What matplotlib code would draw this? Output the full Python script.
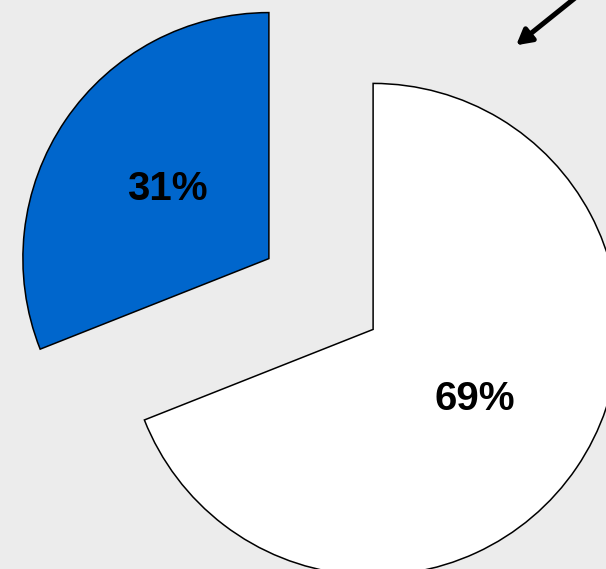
import matplotlib.pyplot as plt

# share of the two groups
labels = ['A', 'B']
values = [31, 69]
colors = ['#0066cc', '#ffffff']

fig = plt.figure(figsize=(6.06, 5.69), dpi=100, facecolor='#ececec')
ax = fig.add_axes([0, 0, 1, 1])
ax.set_facecolor('#ececec')

# explode is in data units here (pie is drawn in pixel-like coords)
wedges, texts, autotexts = ax.pie(
    values, colors=colors, startangle=90, counterclock=True,
    explode=[63, 63], radius=246, center=(321, 275),
    autopct='%d%%', pctdistance=0.5,
    wedgeprops=dict(edgecolor='black', linewidth=1.1),
    textprops=dict(fontsize=29, fontweight='bold', color='black',
                   family=['Liberation Sans', 'DejaVu Sans']),
    frame=True)

ax.set_xlim(0, 606)
ax.set_ylim(0, 569)
ax.set_aspect('equal')
ax.axis('off')

# arrow coming in from the top right
ax.annotate('', xy=(514, 522), xytext=(580, 575),
            arrowprops=dict(arrowstyle='-|>,head_length=0.9,head_width=0.5',
                            color='black', lw=3.6),
            annotation_clip=False)

fig.savefig('out.png', dpi=100, facecolor=fig.get_facecolor())
